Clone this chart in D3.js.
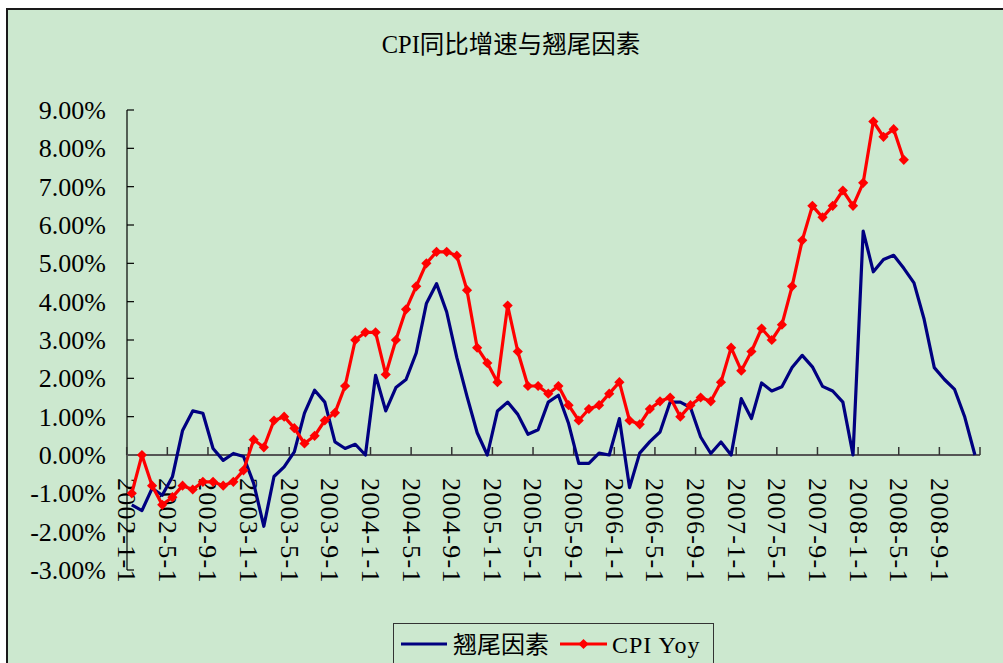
<!DOCTYPE html>
<html>
<head>
<meta charset="utf-8">
<script src="https://cdn.jsdelivr.net/npm/d3@7"></script>
<style>
  body { margin: 0; background: #fff; }
  text { font-family: "Liberation Serif", "Noto Sans CJK SC", serif; fill: #000; }
</style>
</head>
<body>
<div id="chart"></div>
<script>
// months 2002-1 .. 2008-12
var startYear = 2002, endYear = 2008;
var months = [];
for (var yr = startYear; yr <= endYear; yr++) {
    for (var m = 1; m <= 12; m++) months.push(yr + "-" + m + "-1");
}

// 翘尾因素 (carry-over factor), %
var tailFactor = [
    -1.3, -1.45, -0.87, -1.05, -0.57, 0.64, 1.15, 1.09, 0.17, -0.14, 0.04, -0.04,
    -0.74, -1.86, -0.56, -0.31, 0.08, 1.09, 1.69, 1.38, 0.34, 0.17, 0.28, 0.0,
    2.08, 1.15, 1.76, 1.97, 2.66, 3.95, 4.47, 3.73, 2.54, 1.53, 0.58, 0.0,
    1.15, 1.38, 1.06, 0.54, 0.66, 1.38, 1.56, 0.82, -0.22, -0.22, 0.05, 0.0,
    0.95, -0.85, 0.05, 0.35, 0.6, 1.38, 1.38, 1.24, 0.47, 0.04, 0.34, 0.0,
    1.47, 0.95, 1.88, 1.67, 1.78, 2.28, 2.6, 2.3, 1.79, 1.67, 1.38, 0.0,
    5.84, 4.78, 5.1, 5.21, 4.87, 4.49, 3.54, 2.28, 1.97, 1.71, 0.99, 0.0
];

// CPI Yoy, %
var cpiYoy = [
    -1.0, 0.0, -0.8, -1.3, -1.1, -0.8, -0.9, -0.7, -0.7, -0.8, -0.7, -0.4,
    0.4, 0.2, 0.9, 1.0, 0.7, 0.3, 0.5, 0.9, 1.1, 1.8, 3.0, 3.2,
    3.2, 2.1, 3.0, 3.8, 4.4, 5.0, 5.3, 5.3, 5.2, 4.3, 2.8, 2.4,
    1.9, 3.9, 2.7, 1.8, 1.8, 1.6, 1.8, 1.3, 0.9, 1.2, 1.3, 1.6,
    1.9, 0.9, 0.8, 1.2, 1.4, 1.5, 1.0, 1.3, 1.5, 1.4, 1.9, 2.8,
    2.2, 2.7, 3.3, 3.0, 3.4, 4.4, 5.6, 6.5, 6.2, 6.5, 6.9, 6.5,
    7.1, 8.7, 8.3, 8.5, 7.7
];

var yTicks = [-3, -2, -1, 0, 1, 2, 3, 4, 5, 6, 7, 8, 9];
var xTickLabels = months.filter(function(d, i) { return i % 4 === 0; });

var W = 1003, H = 663;

var svg = d3.select("#chart").append("svg")
            .attr("width", W)
            .attr("height", H);

// chart area
svg.append("rect")
   .attr("x", 7)
   .attr("y", 9)
   .attr("width", W + 10)
   .attr("height", H + 10)
   .attr("fill", "#cce8cf")
   .attr("stroke", "#1a1a1a")
   .attr("stroke-width", 2);

svg.append("text")
   .attr("x", 511)
   .attr("y", 53)
   .attr("text-anchor", "middle")
   .style("font-size", "24.5px")
   .text("CPI同比增速与翘尾因素");

var x = d3.scaleBand().domain(months).range([126.7, 980]);
var y = d3.scaleLinear().domain([-3, 9]).range([570, 110]);

var cx = function(i) { return x(months[i]) + x.bandwidth() / 2; };

// y axis
var yAxis = svg.append("g").attr("transform", "translate(127,0)");
yAxis.append("line")
     .attr("x1", 0).attr("x2", 0)
     .attr("y1", y(9)).attr("y2", y(-3))
     .attr("stroke", "#000").attr("stroke-width", 1.2);
yAxis.selectAll("line.tick")
     .data(yTicks)
     .enter()
     .append("line")
     .attr("class", "tick")
     .attr("x1", 0).attr("x2", 7)
     .attr("y1", function(d) { return y(d); })
     .attr("y2", function(d) { return y(d); })
     .attr("stroke", "#000").attr("stroke-width", 1.2);
yAxis.selectAll("text")
     .data(yTicks)
     .enter()
     .append("text")
     .attr("x", -21)
     .attr("y", function(d) { return y(d); })
     .attr("dy", "0.35em")
     .attr("text-anchor", "end")
     .style("font-size", "26px")
     .text(function(d) { return d.toFixed(2) + "%"; });

// x axis at 0%
var y0 = y(0);
svg.append("line")
   .attr("x1", 126.7).attr("x2", 980)
   .attr("y1", y0).attr("y2", y0)
   .attr("stroke", "#555").attr("stroke-width", 2);

var tickIdx = d3.range(0, months.length + 1, 4);
svg.selectAll("line.xtick")
   .data(tickIdx)
   .enter()
   .append("line")
   .attr("class", "xtick")
   .attr("x1", function(i) { return i < months.length ? x(months[i]) : x.range()[1]; })
   .attr("x2", function(i) { return i < months.length ? x(months[i]) : x.range()[1]; })
   .attr("y1", y0).attr("y2", y0 - 8)
   .attr("stroke", "#333").attr("stroke-width", 1.5);

svg.selectAll("text.xlabel")
   .data(xTickLabels)
   .enter()
   .append("text")
   .attr("class", "xlabel")
   .attr("transform", function(d) { return "translate(" + x(d) + ",478) rotate(90)"; })
   .attr("dy", "0.33em")
   .style("font-size", "26px")
   .style("letter-spacing", "1.3px")
   .text(function(d) { return d; });

// series
var line = d3.line()
             .x(function(d, i) { return cx(i); })
             .y(function(d) { return y(d); });

svg.append("path")
   .datum(tailFactor)
   .attr("d", line)
   .attr("fill", "none")
   .attr("stroke", "#000080")
   .attr("stroke-width", 3.2)
   .attr("stroke-linejoin", "round");

svg.append("path")
   .datum(cpiYoy)
   .attr("d", line)
   .attr("fill", "none")
   .attr("stroke", "#ff0000")
   .attr("stroke-width", 3.2)
   .attr("stroke-linejoin", "round");

var diamond = d3.symbol().type(d3.symbolSquare).size(52);
svg.selectAll("path.mk")
   .data(cpiYoy)
   .enter()
   .append("path")
   .attr("class", "mk")
   .attr("d", diamond)
   .attr("transform", function(d, i) { return "translate(" + cx(i) + "," + y(d) + ") rotate(45)"; })
   .attr("fill", "#ff0000");

// legend
var lg = svg.append("g");
lg.append("rect")
  .attr("x", 393.5).attr("y", 623.5)
  .attr("width", 320).attr("height", 42)
  .attr("fill", "#cce8cf")
  .attr("stroke", "#333").attr("stroke-width", 1);
lg.append("line")
  .attr("x1", 401).attr("x2", 447)
  .attr("y1", 644).attr("y2", 644)
  .attr("stroke", "#000080").attr("stroke-width", 3.2);
lg.append("text")
  .attr("x", 453).attr("y", 653)
  .style("font-size", "24px")
  .text("翘尾因素");
lg.append("line")
  .attr("x1", 560).attr("x2", 607)
  .attr("y1", 644).attr("y2", 644)
  .attr("stroke", "#ff0000").attr("stroke-width", 3.2);
lg.append("path")
  .attr("d", diamond)
  .attr("transform", "translate(583.5,644) rotate(45)")
  .attr("fill", "#ff0000");
lg.append("text")
  .attr("x", 612).attr("y", 653)
  .style("font-size", "24px")
  .style("letter-spacing", "1px")
  .text("CPI Yoy");
</script>
</body>
</html>
